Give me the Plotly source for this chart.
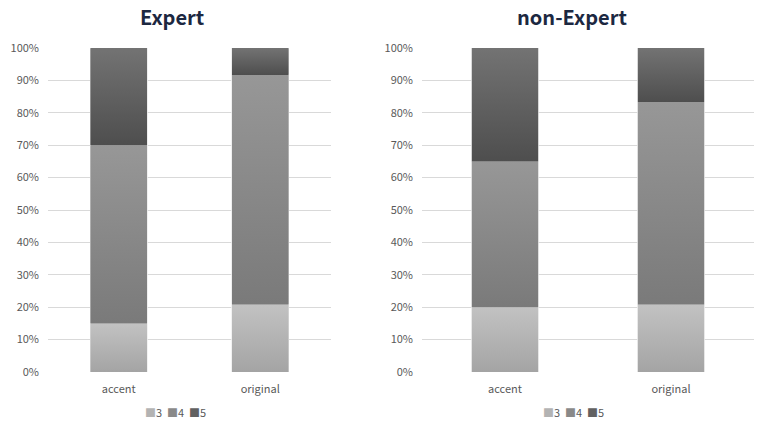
import plotly.graph_objects as go

# ---- data ----
categories = ["accent", "original"]
levels = ["3", "4", "5"]
expert_3 = [15.0, 20.8]
expert_4 = [55.0, 70.8]
expert_5 = [30.0, 8.3]
nonexpert_3 = [20.0, 20.8]
nonexpert_4 = [45.0, 62.5]
nonexpert_5 = [35.0, 16.7]
y_ticks = [0, 10, 20, 30, 40, 50, 60, 70, 80, 90, 100]
y_ticklabels = [f"{v}%" for v in y_ticks]

# ---- style ----
solid = {"3": "#b3b3b3", "4": "#898989", "5": "#616161"}
grad = {"3": ("#a4a4a4", "#c2c2c2"), "4": ("#7a7a7a", "#979797"), "5": ("#4e4e4e", "#737373")}
FONT = "Noto Sans CJK JP"
GREY = "#595959"
BARW = 0.4


def normalize(series):
    out = []
    for i in range(len(series[0])):
        tot = sum(s[i] for s in series)
        out.append([s[i] / tot * 100 for s in series])
    return [[row[j] for row in out] for j in range(len(series))]


fig = go.Figure()
xpos = list(range(len(categories)))

panels = [
    ("x", "y", normalize([expert_3, expert_4, expert_5])),
    ("x2", "y2", normalize([nonexpert_3, nonexpert_4, nonexpert_5])),
]

for xa, ya, series in panels:
    for lev, vals in zip(levels, series):
        fig.add_trace(go.Bar(
            x=xpos, y=vals, name=lev, xaxis=xa, yaxis=ya, showlegend=False,
            width=BARW, marker=dict(color=solid[lev], line=dict(color="#f2f2f2", width=0.8)),
            hoverinfo="skip",
        ))

# gradient overlays computed from the same data
for xa, ya, series in panels:
    for i, xc in enumerate(xpos):
        base = 0.0
        for lev, vals in zip(levels, series):
            top = base + vals[i]
            fig.add_trace(go.Scatter(
                x=[xc - BARW / 2, xc + BARW / 2, xc + BARW / 2, xc - BARW / 2, xc - BARW / 2],
                y=[base, base, top, top, base],
                mode="lines", fill="toself", line=dict(width=0),
                fillgradient=dict(type="vertical", start=base, stop=top,
                                  colorscale=[[0, grad[lev][0]], [1, grad[lev][1]]]),
                xaxis=xa, yaxis=ya, showlegend=False, hoverinfo="skip",
            ))
            base = top

W, H = 757, 423
yb, yt = 1 - 372 / H, 1 - 48 / H

# compact legends (square glyph + level name) as text
legend_text = "  ".join(
    f"<span style='color:{solid[lev]}'>■</span>{lev}" for lev in levels
)

fig.update_layout(
    template="none",
    width=W, height=H, margin=dict(l=0, r=0, t=0, b=0, autoexpand=False),
    paper_bgcolor="white", plot_bgcolor="white",
    barmode="stack", showlegend=False,
    xaxis=dict(domain=[48 / W, 331 / W], anchor="y"),
    xaxis2=dict(domain=[422 / W, 754 / W], anchor="y2"),
    yaxis=dict(anchor="x", domain=[yb, yt]),
    yaxis2=dict(anchor="x2", domain=[yb, yt]),
    annotations=[
        dict(text="<b>Expert</b>", x=172 / W, y=1 - 17 / H, xref="paper", yref="paper",
             xanchor="center", yanchor="middle", showarrow=False,
             font=dict(family=FONT, size=20, color="#1c2841")),
        dict(text="<b>non-Expert</b>", x=572 / W, y=1 - 17 / H, xref="paper", yref="paper",
             xanchor="center", yanchor="middle", showarrow=False,
             font=dict(family=FONT, size=20, color="#1c2841")),
        dict(text=legend_text, x=175 / W, y=1 - 412 / H, xref="paper", yref="paper",
             xanchor="center", yanchor="middle", showarrow=False,
             font=dict(family=FONT, size=11, color=GREY)),
        dict(text=legend_text, x=573 / W, y=1 - 412 / H, xref="paper", yref="paper",
             xanchor="center", yanchor="middle", showarrow=False,
             font=dict(family=FONT, size=11, color=GREY)),
    ],
)
fig.update_xaxes(
    range=[-0.5, 1.5], tickmode="array", tickvals=xpos, ticktext=categories, showgrid=False,
    zeroline=False, showline=False, ticks="", automargin=False, ticklabelstandoff=9,
    tickfont=dict(family=FONT, size=11, color=GREY), fixedrange=True,
)
fig.update_yaxes(
    range=[0, 100], tickmode="array", tickvals=y_ticks, ticktext=y_ticklabels,
    showgrid=True, gridcolor="#d9d9d9", gridwidth=1, zeroline=False, showline=False,
    ticks="", ticklabelstandoff=8, automargin=False,
    tickfont=dict(family=FONT, size=11, color=GREY), fixedrange=True,
)

fig.write_html("out.html", config={"displayModeBar": False},
               post_script="document.body.style.margin='0';")
